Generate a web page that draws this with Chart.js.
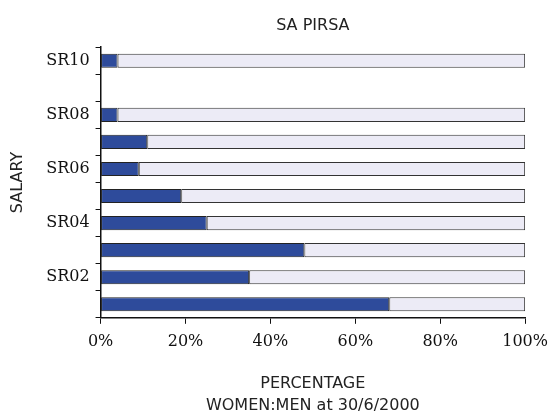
<!DOCTYPE html>
<html>
<head>
<meta charset="utf-8">
<script src="https://cdn.jsdelivr.net/npm/chart.js@4"></script>
<style>
  html, body { margin: 0; padding: 0; background: #fff; }
  #wrap { width: 550px; height: 414px; }
</style>
</head>
<body>
<div id="wrap"><canvas id="salaryChart"></canvas></div>
<script>
// salary levels, top to bottom
const categories = ["SR10", "SR09", "SR08", "SR07", "SR06", "SR05", "SR04", "SR03", "SR02", "SR01"];
// only every second level is labelled on the axis
const tickLabels = ["SR10", "", "SR08", "", "SR06", "", "SR04", "", "SR02", ""];
// share of women (%) - SR09 has no staff
const women = [4, null, 4, 11, 9, 19, 25, 48, 35, 68];
const men = [96, null, 96, 89, 91, 81, 75, 52, 65, 32];
const xTicks = [0, 20, 40, 60, 80, 100];

const sansFont = "'DejaVu Sans', Lato, sans-serif";
const serifFont = "'DejaVu Serif', 'Liberation Serif', serif";

document.addEventListener("DOMContentLoaded", function () {
  const ctx = document.getElementById("salaryChart").getContext("2d");
  new Chart(ctx, {
    type: "bar",
    data: {
      labels: categories,
      datasets: [
        {
          label: "Women",
          data: women,
          backgroundColor: "#2E4B9B",
          borderColor: "#222",
          borderWidth: 1,
          borderSkipped: false,
          barPercentage: 0.52,
          categoryPercentage: 1,
        },
        {
          label: "Men",
          data: men,
          backgroundColor: "#ECEBF6",
          borderColor: "#333",
          borderWidth: 1,
          borderSkipped: false,
          barPercentage: 0.52,
          categoryPercentage: 1,
        },
      ],
    },
    options: {
      indexAxis: "y",
      responsive: true,
      maintainAspectRatio: false,
      animation: false,
      layout: { padding: { left: 8, right: 0, top: 12, bottom: 0 } },
      plugins: {
        legend: { display: false },
        tooltip: { enabled: false },
        title: {
          display: true,
          text: "SA PIRSA",
          fullSize: false,
          color: "#222",
          font: { family: sansFont, size: 16, weight: "normal" },
          padding: { top: 4, bottom: 12 },
        },
        subtitle: {
          display: true,
          position: "bottom",
          text: "WOMEN:MEN at 30/6/2000",
          fullSize: false,
          color: "#222",
          font: { family: sansFont, size: 16, weight: "normal", lineHeight: 1 },
          padding: { top: 1, bottom: 0 },
        },
      },
      scales: {
        x: {
          stacked: true,
          min: 0,
          max: 100,
          afterBuildTicks: (axis) => {
            axis.ticks = xTicks.map((v) => ({ value: v }));
          },
          grid: {
            drawOnChartArea: false,
            drawTicks: true,
            tickLength: 6,
            color: "#111",
          },
          border: { display: true, color: "#111", width: 1.5 },
          ticks: {
            color: "#111",
            padding: 2,
            maxRotation: 0,
            font: { family: serifFont, size: 16, lineHeight: 2 },
            callback: (v) => v + "%",
          },
          title: {
            display: true,
            text: "PERCENTAGE",
            color: "#222",
            font: { family: sansFont, size: 16 },
            padding: { top: 14, bottom: 4 },
          },
        },
        y: {
          stacked: true,
          grid: {
            drawOnChartArea: false,
            offset: true,
            tickLength: 5,
            color: "#111",
          },
          border: { display: true, color: "#111", width: 1.5 },
          ticks: {
            color: "#111",
            padding: 6,
            font: { family: serifFont, size: 16 },
            callback: (v, i) => tickLabels[i],
          },
          title: {
            display: true,
            text: "SALARY",
            color: "#222",
            font: { family: sansFont, size: 16 },
            padding: { top: 0, bottom: 13 },
          },
        },
      },
    },
  });
});
</script>
</body>
</html>
